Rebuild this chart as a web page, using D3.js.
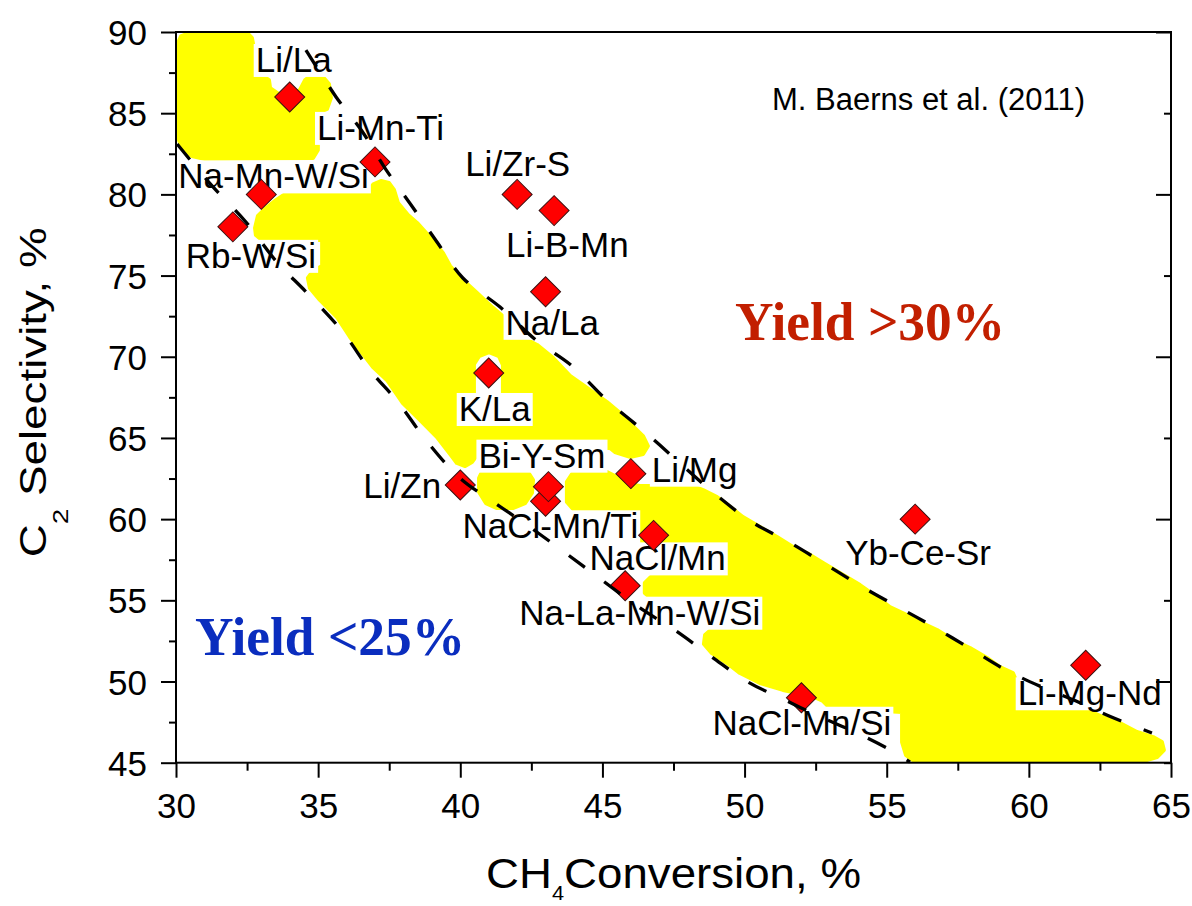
<!DOCTYPE html>
<html>
<head>
<meta charset="utf-8">
<script src="https://cdn.jsdelivr.net/npm/d3@7"></script>
<style>
  body { margin: 0; background: #fff; }
  svg { display: block; font-family: "Liberation Sans", Arial, sans-serif; }
</style>
</head>
<body>
<svg id="chart" width="1192" height="906"></svg>
<script>
// ---- catalyst performance (CH4 conversion %, C2 selectivity %) ----
const catalysts = ["Li/La", "Li-Mn-Ti", "Na-Mn-W/Si", "Rb-W/Si", "Li/Zr-S", "Li-B-Mn", "Na/La", "K/La",
  "Li/Zn", "NaCl-Mn/Ti", "Bi-Y-Sm", "Li/Mg", "NaCl/Mn", "Na-La-Mn-W/Si", "NaCl-Mn/Si", "Yb-Ce-Sr", "Li-Mg-Nd"];
const conversion = [34, 37, 33, 32, 42, 43.3, 43, 41, 40, 43, 43.1, 46, 46.8, 45.8, 52, 56, 62];
const selectivity = [86, 82, 80, 78, 80, 79, 74, 69, 62.1, 61.1, 62, 62.8, 59, 55.9, 49, 60, 51];

// label placement relative to each marker (px: left edge, baseline)
const labelOffset = [[-34, -25], [-58, -22], [-83, -6], [-47, 41], [-52, -18], [-48, 46], [-40, 43], [-30, 48],
  [-97, 13], [-83, 37], [-70, -19], [21, 8], [-64, 35], [-106, 39], [-89, 37], [-70, 46], [-68, 40]];

// ---- axis ticks ----
const xTicks = [30, 35, 40, 45, 50, 55, 60, 65];
const xMinor = [32.5, 37.5, 42.5, 47.5, 52.5, 57.5, 62.5];
const yTicks = [45, 50, 55, 60, 65, 70, 75, 80, 85, 90];
const yMinor = [47.5, 52.5, 57.5, 62.5, 67.5, 72.5, 77.5, 82.5, 87.5];
const yRightMajor = [50, 60, 70, 80, 90];
const yRightMinor = [45, 55, 65, 75, 85];

// ---- iso-yield boundaries (conversion, selectivity) ----
const yield30 = [[34.57, 88.89], [35.63, 86.00], [36.54, 83.90], [37.35, 81.62], [38.27, 79.35], [39.18, 77.07],
  [40.09, 74.85], [41.40, 73.06], [42.70, 70.97], [43.93, 69.43], [45.19, 67.27], [46.50, 65.36], [47.80, 63.33],
  [48.96, 61.55], [50.26, 59.82], [51.56, 58.59], [52.83, 57.24], [54.09, 55.88], [55.40, 54.59], [56.66, 53.36],
  [57.96, 52.00], [59.19, 50.71], [60.46, 49.66], [61.66, 48.80], [62.99, 47.75], [64.33, 46.83]];
const yield25 = [[30.04, 83.10], [31.27, 80.52], [32.46, 78.30], [33.55, 75.83], [34.61, 73.93], [35.87, 71.52],
  [36.82, 69.18], [37.81, 67.21], [38.79, 64.87], [39.99, 62.53], [41.22, 60.99], [42.45, 59.51], [43.75, 57.85],
  [44.98, 56.25], [46.32, 54.53], [47.59, 53.11], [48.85, 51.51], [50.12, 49.97], [51.35, 48.92], [52.62, 47.85],
  [53.88, 46.89], [55.26, 45.66], [55.82, 45.04]];

// ---- high-throughput screening regions (conversion, selectivity) ----
const regionTop = [[30.04, 89.20], [30.18, 89.75], [30.49, 89.94], [32.50, 89.94], [32.67, 89.63], [32.74, 89.01],
  [32.74, 87.41], [33.02, 87.35], [33.27, 87.04], [33.31, 86.55], [33.66, 86.12], [33.97, 86.00], [34.36, 86.43],
  [34.54, 87.04], [34.82, 87.41], [35.14, 87.29], [35.38, 86.80], [35.45, 85.94], [35.31, 85.26], [34.99, 85.01],
  [34.99, 82.73], [34.82, 82.24], [31.02, 82.18], [30.56, 82.36], [30.21, 82.86], [30.04, 83.66]];
const regionMain = [[32.78, 77.93], [32.88, 78.67], [33.17, 79.16], [33.52, 79.65], [33.94, 80.14], [34.36, 80.39],
  [36.82, 80.39], [36.96, 80.64], [37.21, 80.82], [37.49, 80.70], [37.67, 80.27], [37.81, 79.47], [38.16, 78.73],
  [38.48, 78.24], [38.93, 77.37], [39.39, 76.39], [39.64, 75.59], [40.09, 74.73], [40.59, 73.93], [41.15, 73.01],
  [41.57, 72.39], [41.75, 71.28], [42.17, 71.22], [42.70, 70.73], [43.26, 69.93], [43.86, 68.82], [44.46, 68.08],
  [45.16, 67.21], [45.62, 66.53], [46.07, 65.73], [46.43, 65.11], [46.60, 64.50], [46.43, 64.01], [45.97, 63.83],
  [45.44, 64.13], [45.27, 64.38], [40.69, 64.38], [40.59, 63.95], [40.41, 63.52], [40.17, 63.27], [39.88, 63.46],
  [39.67, 63.95], [39.18, 65.06], [38.58, 66.11], [37.98, 67.15], [37.42, 68.57], [36.93, 69.37], [36.47, 70.42],
  [36.12, 71.22], [35.66, 72.45], [35.06, 73.50], [34.71, 74.23], [34.64, 74.85], [34.82, 75.28], [35.14, 75.59],
  [35.14, 77.19], [33.02, 77.19], [32.81, 77.50]];
const regionMainGap = [[40.48, 67.60], [40.48, 69.55], [40.66, 70.04], [41.01, 70.29], [41.36, 70.04],
  [41.50, 69.49], [41.50, 67.60]];
const regionMid = [[40.76, 62.90], [42.38, 62.90], [42.56, 62.41], [42.52, 61.61], [42.28, 60.99], [41.85, 60.68],
  [41.29, 60.68], [40.90, 60.99], [40.66, 61.67], [40.66, 62.53]];
const regionLow = [[43.75, 62.29], [43.93, 62.78], [44.21, 62.90], [45.16, 62.90], [45.51, 62.59], [45.90, 62.16],
  [46.32, 62.04], [48.19, 62.04], [48.54, 61.79], [49.03, 61.36], [49.49, 60.75], [49.94, 60.13], [50.54, 59.51],
  [51.14, 58.90], [51.70, 58.28], [52.19, 57.91], [52.76, 57.30], [53.35, 56.68], [54.06, 55.94], [54.66, 55.20],
  [55.11, 54.59], [55.71, 54.09], [56.17, 53.66], [56.77, 53.17], [57.33, 52.56], [57.93, 52.06], [58.53, 51.45],
  [58.98, 50.89], [59.44, 50.52], [59.69, 49.48], [60.04, 48.31], [60.74, 48.55], [61.55, 48.43], [62.04, 48.24],
  [62.61, 47.81], [63.20, 47.44], [63.80, 46.89], [64.37, 46.58], [64.68, 46.27], [64.75, 45.78], [64.51, 45.35],
  [64.15, 45.16], [55.92, 45.16], [55.68, 45.47], [55.54, 46.27], [55.54, 48.12], [53.00, 48.37], [52.76, 48.80],
  [52.37, 49.11], [51.35, 49.48], [50.54, 49.91], [49.84, 50.52], [49.38, 51.14], [48.85, 51.75], [48.57, 52.31],
  [48.61, 52.86], [48.85, 53.23], [49.21, 53.35], [49.21, 55.02], [46.74, 55.08], [46.49, 55.45], [46.49, 56.07],
  [46.74, 56.50], [47.02, 56.56], [46.32, 57.48], [46.32, 60.44], [44.03, 60.50], [43.75, 61.06]];

// ---- scales ----
const svg = d3.select("#chart");
const x = d3.scaleLinear().domain([30, 65]).range([176, 1171]);
const y = d3.scaleLinear().domain([45, 90]).range([762.7, 32]);
const X0 = x.range()[0], X1 = x.range()[1], Y0 = y.range()[0], Y1 = y.range()[1];

const ring = d3.line().x(d => x(d[0])).y(d => y(d[1])).curve(d3.curveLinearClosed);

// screening regions
const regions = svg.append("g")
  .attr("fill", "#ffff00").attr("stroke", "#ffff00")
  .attr("stroke-width", 4).attr("stroke-linejoin", "round");
regions.append("path").attr("d", ring(regionTop));
regions.append("path").attr("d", ring(regionMain) + ring(regionMainGap)).attr("fill-rule", "evenodd");
regions.append("path").attr("d", ring(regionMid));
regions.append("path").attr("d", ring(regionLow));

// catalyst labels on white boxes
const pts = catalysts.map((name, i) => ({ name, cx: conversion[i], sel: selectivity[i], off: labelOffset[i] }));
const labels = svg.append("g").attr("font-size", 35).attr("fill", "#000");
pts.forEach(p => {
  const lx = x(p.cx) + p.off[0], ly = y(p.sel) + p.off[1];
  const box = labels.append("rect").attr("fill", "#fff");
  const t = labels.append("text").attr("x", lx).attr("y", ly).text(p.name);
  const w = t.node().getComputedTextLength();
  box.attr("x", lx - 2).attr("y", ly - 28).attr("width", w + 4).attr("height", 33);
});

// markers
const diamond = d3.symbol(d3.symbolSquare, 450);
svg.append("g").selectAll("path").data(pts).join("path")
  .attr("d", diamond)
  .attr("transform", d => `translate(${x(d.cx)},${y(d.sel)}) rotate(45)`)
  .attr("fill", "#ff0000").attr("stroke", "#3a1010").attr("stroke-width", 1);

// iso-yield dashed curves
const curve = d3.line().x(d => x(d[0])).y(d => y(d[1])).curve(d3.curveCatmullRom);
svg.append("g").attr("fill", "none").attr("stroke", "#000").attr("stroke-width", 3.3)
  .attr("stroke-dasharray", "20 24")
  .selectAll("path").data([yield30, yield25]).join("path").attr("d", curve);

// axes
const axisStyle = g => {
  g.selectAll(".domain").remove();
  g.selectAll(".tick line").attr("stroke", "#000").attr("stroke-width", 2);
  g.selectAll(".tick text").attr("fill", "#000").attr("font-size", 35)
    .attr("font-family", "Liberation Sans, Arial, sans-serif");
};
svg.append("g").attr("transform", `translate(${X0},0)`)
  .call(d3.axisLeft(y).tickValues(yTicks).tickSize(15).tickPadding(14).tickFormat(d3.format("d")))
  .call(axisStyle).call(g => g.selectAll(".tick text").attr("dy", "0.36em"));
svg.append("g").attr("transform", `translate(${X0},0)`)
  .call(d3.axisLeft(y).tickValues(yMinor).tickSize(7).tickFormat(""))
  .call(axisStyle);
svg.append("g").attr("transform", `translate(0,${Y0})`)
  .call(d3.axisBottom(x).tickValues(xTicks).tickSize(15).tickPadding(15).tickFormat(d3.format("d")))
  .call(axisStyle);
svg.append("g").attr("transform", `translate(0,${Y0})`)
  .call(d3.axisBottom(x).tickValues(xMinor).tickSize(8).tickFormat(""))
  .call(axisStyle);
svg.append("g").attr("transform", `translate(${X1},0)`)
  .call(d3.axisLeft(y).tickValues(yRightMajor).tickSize(15).tickFormat(""))
  .call(axisStyle);
svg.append("g").attr("transform", `translate(${X1},0)`)
  .call(d3.axisLeft(y).tickValues(yRightMinor).tickSize(7).tickFormat(""))
  .call(axisStyle);
svg.append("rect").attr("x", X0).attr("y", Y1).attr("width", X1 - X0).attr("height", Y0 - Y1)
  .attr("fill", "none").attr("stroke", "#000").attr("stroke-width", 2);

// axis titles
const xt = svg.append("text").attr("x", (X0 + X1) / 2).attr("y", 888)
  .attr("text-anchor", "middle").attr("font-size", 42)
  .attr("textLength", 375).attr("lengthAdjust", "spacingAndGlyphs");
xt.append("tspan").text("CH");
xt.append("tspan").attr("dy", 12).attr("font-size", 20).text("4");
xt.append("tspan").attr("dy", -12).text("Conversion, %");

const yt = svg.append("text").attr("transform", `translate(46,${(Y0 + Y1) / 2 - 5}) rotate(-90)`)
  .attr("text-anchor", "middle").attr("font-size", 36)
  .attr("textLength", 330).attr("lengthAdjust", "spacingAndGlyphs");
yt.append("tspan").text("C");
yt.append("tspan").attr("dy", 22).attr("font-size", 22).text("2");
yt.append("tspan").attr("dy", -22).text(" Selectivity, %");

// annotations
svg.append("text").attr("x", 772).attr("y", 110).attr("font-size", 31).text("M. Baerns et al. (2011)");
svg.append("text").attr("x", 735).attr("y", 340)
  .attr("font-family", "Liberation Serif, Times New Roman, serif").attr("font-weight", "bold")
  .attr("font-size", 54).attr("fill", "#c21f00")
  .attr("textLength", 270).attr("lengthAdjust", "spacingAndGlyphs").text("Yield >30%");
svg.append("text").attr("x", 195).attr("y", 655)
  .attr("font-family", "Liberation Serif, Times New Roman, serif").attr("font-weight", "bold")
  .attr("font-size", 54).attr("fill", "#0a2dbe")
  .attr("textLength", 270).attr("lengthAdjust", "spacingAndGlyphs").text("Yield <25%");
</script>
</body>
</html>
